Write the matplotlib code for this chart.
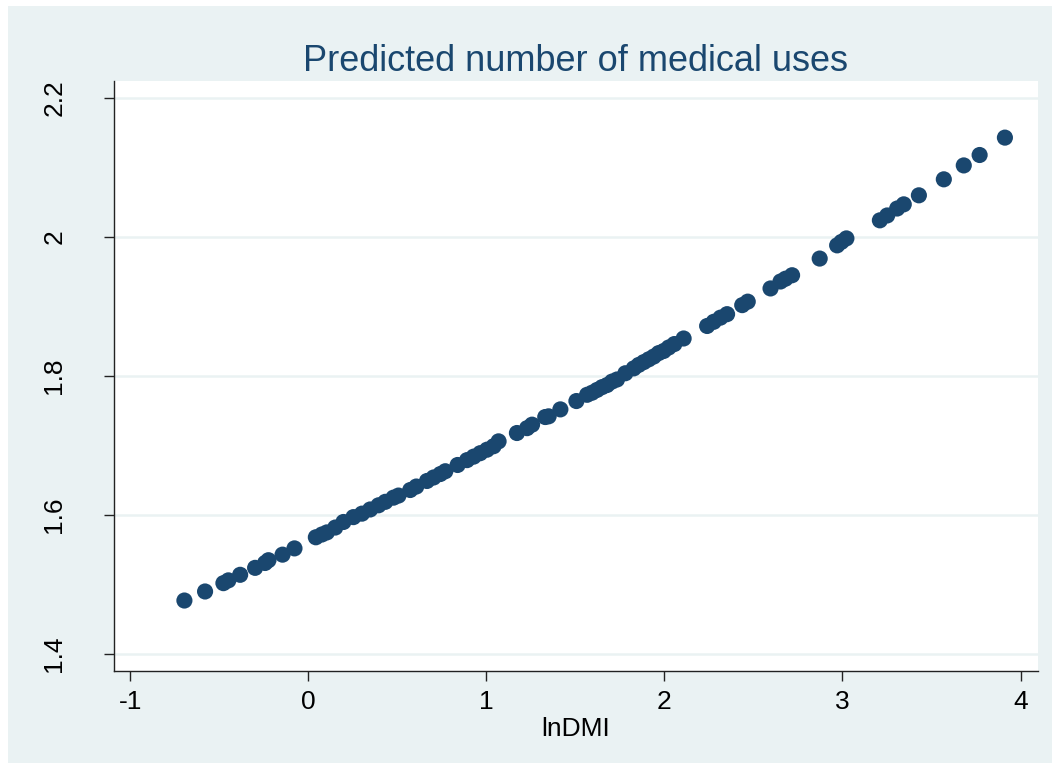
import matplotlib.pyplot as plt
from matplotlib.patches import Rectangle

plt.rcParams['font.family'] = ['Liberation Sans', 'DejaVu Sans']

# log of DMI and the fitted count for each observation
lnDMI = [-0.695, -0.579, -0.476, -0.448, -0.382, -0.298, -0.242, -0.223, -0.144, -0.077,
         0.043, 0.077, 0.105, 0.152, 0.198, 0.254, 0.302, 0.348, 0.395, 0.433,
         0.479, 0.507, 0.573, 0.607, 0.667, 0.704, 0.742, 0.770, 0.839, 0.892,
         0.929, 0.966, 1.004, 1.041, 1.069, 1.172, 1.229, 1.257, 1.331, 1.350,
         1.416, 1.506, 1.566, 1.594, 1.622, 1.650, 1.678, 1.706, 1.734, 1.781,
         1.828, 1.856, 1.884, 1.912, 1.940, 1.968, 1.996, 2.024, 2.056, 2.108,
         2.240, 2.277, 2.315, 2.352, 2.437, 2.468, 2.596, 2.652, 2.680, 2.717,
         2.872, 2.970, 2.994, 3.022, 3.210, 3.251, 3.307, 3.344, 3.429, 3.569,
         3.681, 3.770, 3.912]
predicted = [1.477, 1.490, 1.502, 1.506, 1.514, 1.524, 1.531, 1.535, 1.543, 1.552,
             1.568, 1.572, 1.575, 1.582, 1.590, 1.597, 1.602, 1.608, 1.614, 1.619,
             1.625, 1.628, 1.636, 1.641, 1.649, 1.654, 1.659, 1.663, 1.672, 1.679,
             1.684, 1.689, 1.694, 1.699, 1.706, 1.718, 1.725, 1.730, 1.741, 1.742,
             1.752, 1.764, 1.773, 1.776, 1.780, 1.784, 1.787, 1.792, 1.795, 1.804,
             1.811, 1.816, 1.820, 1.824, 1.828, 1.833, 1.836, 1.841, 1.846, 1.854,
             1.872, 1.878, 1.884, 1.889, 1.902, 1.907, 1.926, 1.936, 1.940, 1.945,
             1.969, 1.988, 1.993, 1.998, 2.024, 2.031, 2.041, 2.047, 2.060, 2.083,
             2.103, 2.118, 2.143]

xticks = [-1, 0, 1, 2, 3, 4]
yticks = [1.4, 1.6, 1.8, 2.0, 2.2]
ytick_labels = ['1.4', '1.6', '1.8', '2', '2.2']

navy = '#1a476f'
bg = '#eaf2f3'

fig = plt.figure(figsize=(10.59, 7.69), dpi=100, facecolor='white')
fig.patches.append(Rectangle((8 / 1059, 6 / 769), 1044 / 1059, 757 / 769,
                             transform=fig.transFigure, facecolor=bg,
                             edgecolor='none', zorder=-1))

ax = fig.add_axes([0.1072, 0.1278, 0.8725, 0.7669])
ax.set_facecolor('white')
ax.scatter(lnDMI, predicted, s=135, color=navy, edgecolors='none', zorder=3)

ax.set_xlim(-1.093, 4.095)
ax.set_ylim(1.376, 2.2245)
ax.set_xticks(xticks)
ax.set_xticklabels([str(t) for t in xticks])
ax.set_yticks(yticks)
ax.set_yticklabels(ytick_labels, rotation=90, va='center')
ax.grid(axis='y', color=bg, linewidth=1.8, zorder=0)
ax.set_axisbelow(True)

for side in ['top', 'right']:
    ax.spines[side].set_visible(False)
for side in ['left', 'bottom']:
    ax.spines[side].set_linewidth(1.0)
    ax.spines[side].set_color('#222222')

ax.tick_params(axis='both', direction='out', length=7, width=1.0,
               color='#222222', labelsize=19, labelcolor='black')
ax.tick_params(axis='x', pad=7)
ax.tick_params(axis='y', pad=27)

ax.set_xlabel('lnDMI', fontsize=19, labelpad=2)
ax.set_title('Predicted number of medical uses', fontsize=26, color=navy, pad=7)

fig.savefig('out.png', dpi=100, facecolor=fig.get_facecolor())
